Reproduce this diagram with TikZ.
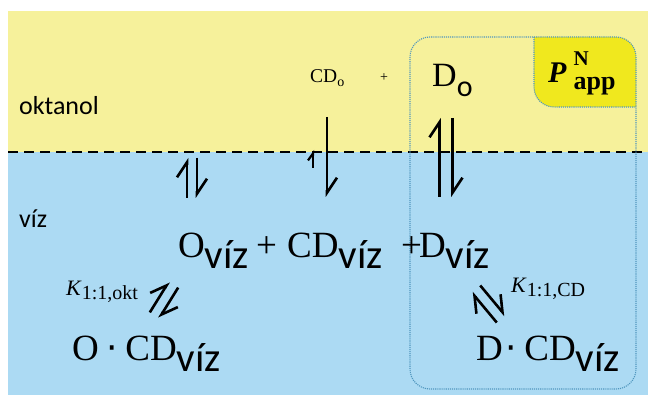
\documentclass[tikz,border=0pt]{standalone}
\usepackage{fontspec}
\setmainfont{Liberation Serif}
\newfontfamily\calib{Carlito}
\newfontfamily\dejavu{DejaVu Sans}
\usetikzlibrary{arrows.meta,calc}

\definecolor{oilyellow}{RGB}{246,241,155}
\definecolor{waterblue}{RGB}{172,218,243}
\definecolor{pyellow}{RGB}{240,232,30}
\definecolor{boxblue}{RGB}{80,150,190}

\tikzset{
  harp/.style={line width=2.6pt, -{Straight Barb[left,length=15pt,width=20pt]}},
  smallharp/.style={line width=2.2pt, -{Straight Barb[left,length=7pt,width=10pt]}},
  species/.style={inner sep=0pt, anchor=base west, font=\fontsize{37}{42}\selectfont},
  phase/.style={inner sep=0pt, anchor=base west, font=\calib\fontsize{26}{30}\selectfont},
  boxline/.style={draw=boxblue, line width=1.1pt, densely dotted}
}
\newcommand\viz{\raisebox{-11pt}{\calib\fontsize{41}{46}\selectfont víz}}
\newcommand\cdt{{\dejavu\fontsize{36}{40}\selectfont ·}}
\newcommand\eqpair[3]{%
  \draw[harp] ($(#1)!#3!90:(#2)$) -- ($(#2)!#3!-90:(#1)$);
  \draw[harp] ($(#2)!#3!90:(#1)$) -- ($(#1)!#3!-90:(#2)$);}

\begin{document}
\begin{tikzpicture}[x=1pt,y=-1pt]
  \useasboundingbox (0,0) rectangle (648,395);
  \fill[oilyellow] (8,11) rectangle (648,152);
  \fill[waterblue] (8,152) rectangle (648,395);
  \draw[line width=2.4pt, dash pattern=on 10pt off 6pt] (8,152) -- (648,152);

  \begin{scope}
    \clip[rounded corners=20pt] (410,37) rectangle (636,389);
    \fill[pyellow, rounded corners=20pt] (534,0) rectangle (660,107);
  \end{scope}
  \draw[boxline, rounded corners=20pt] (534,37) -- (534,107) -- (636,107);
  \draw[boxline, rounded corners=20pt] (410,37) rectangle (636,389);

  \node[phase] (okt) at (19,115) {oktanol};
  \node[phase] (wat) at (19,228) {víz};

  \node[inner sep=0pt, anchor=base west, font=\fontsize{19.5}{22}\selectfont] (CDo) at (310,83)
    {CD\raisebox{-4pt}{\fontsize{14}{16}\selectfont o}};
  \node[inner sep=0pt, anchor=base west, font=\fontsize{14}{16}\selectfont] (pluso) at (380,82) {+};
  \node[inner sep=0pt, anchor=base west, font=\fontsize{34}{40}\selectfont] (Do) at (432,87)
    {D\raisebox{-10pt}{\calib\fontsize{30}{34}\selectfont o}};
  \node[inner sep=0pt, anchor=base west, font=\bfseries\fontsize{30}{34}\selectfont] (Papp) at (548,83)
    {\textit{P}\kern7pt\rlap{\raisebox{17pt}{\fontsize{21}{24}\selectfont N}}\raisebox{-7pt}{\fontsize{26}{30}\selectfont app}};

  \node[species] (Oviz) at (178,258) {O\viz};
  \node[species] (plusa) at (256,258) {+};
  \node[species] (CDviz) at (287,258) {CD\viz};
  \node[species] (plusb) at (401,258) {+};
  \node[species] (Dviz) at (419,258) {D\viz};
  \node[species] (OCD) at (72,360) {O\hspace{8pt}\cdt\hspace{7pt}CD\viz};
  \node[species] (DCD) at (476,360) {D\hspace{3pt}\cdt\hspace{7pt}CD\viz};

  \node[inner sep=0pt, anchor=base west, font=\fontsize{22}{24}\selectfont] (Kokt) at (66,296)
    {\textit{K}\raisebox{-4pt}{\fontsize{20}{22}\selectfont 1:1,okt}};
  \node[inner sep=0pt, anchor=base west, font=\fontsize{22}{24}\selectfont] (Kcd) at (511,293)
    {\textit{K}\raisebox{-4pt}{\fontsize{20}{22}\selectfont 1:1,CD}};

  \coordinate (Obot) at (192,198);
  \coordinate (Otop) at (192,158);
  \coordinate (Dbot) at (446,197);
  \coordinate (Dtop) at (446,118);
  \coordinate (CDupa) at (313,168);
  \coordinate (CDupb) at (313,150);
  \coordinate (CDdna) at (327,117);
  \coordinate (CDdnb) at (327,197);
  \coordinate (Kokta) at (154.5,315.3);
  \coordinate (Koktb) at (173.5,284.7);
  \coordinate (Kcda) at (501,319);
  \coordinate (Kcdb) at (476,289);

  \eqpair{Obot}{Otop}{5pt}
  \eqpair{Dbot}{Dtop}{6.5pt}
  \eqpair{Kokta}{Koktb}{5.5pt}
  \eqpair{Kcda}{Kcdb}{5.5pt}
  \draw[smallharp] (CDupa) -- (CDupb);
  \draw[harp] (CDdna) -- (CDdnb);
\end{tikzpicture}
\end{document}
